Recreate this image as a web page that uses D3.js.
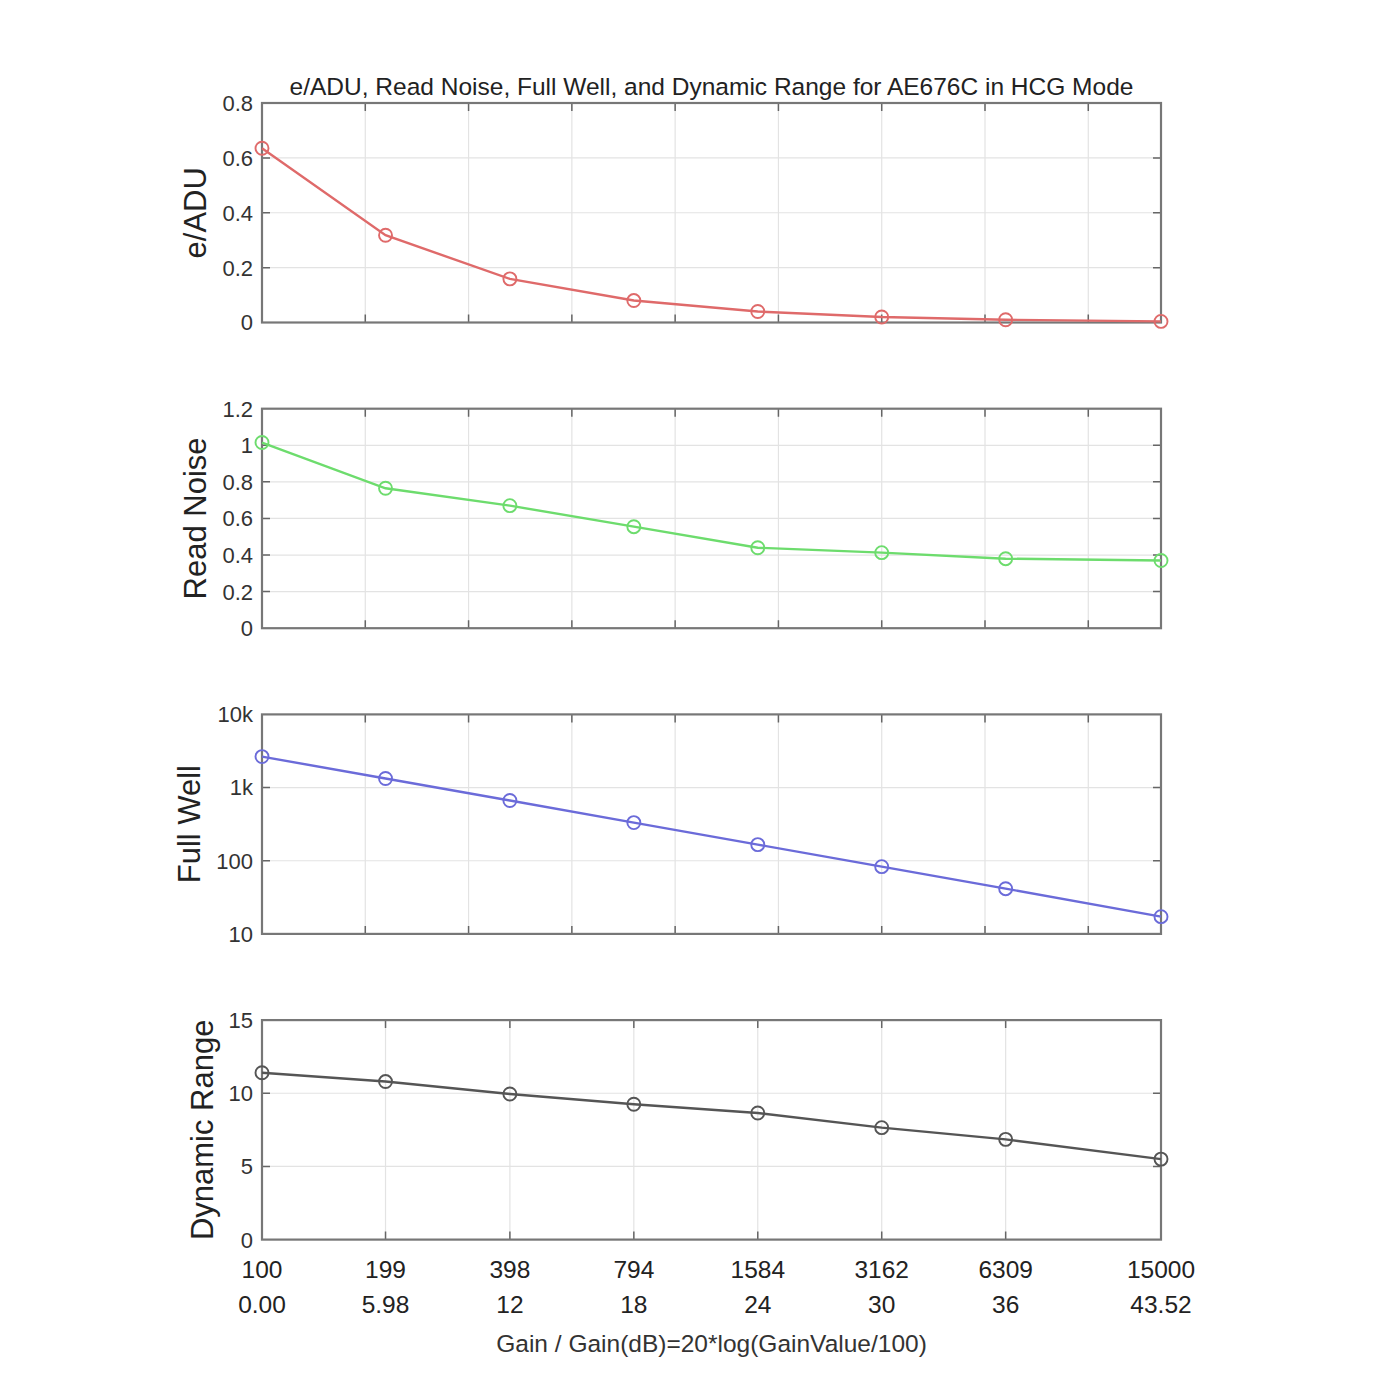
<!DOCTYPE html>
<html>
<head>
<meta charset="utf-8">
<script src="https://cdn.jsdelivr.net/npm/d3@7"></script>
<style>
  body { margin: 0; background: #fff; }
  text { font-family: "Liberation Sans", Arial, Helvetica, sans-serif; }
</style>
</head>
<body>
<svg id="chart" width="1400" height="1400"></svg>
<script>
// x positions: gain in dB, with gain value labels
const gainDb = [0, 5.98, 12, 18, 24, 30, 36, 43.52];
const gainLabels = ['100', '199', '398', '794', '1584', '3162', '6309', '15000'];
const dbLabels = ['0.00', '5.98', '12', '18', '24', '30', '36', '43.52'];

// series
const eADU = [0.635, 0.318, 0.159, 0.080, 0.040, 0.020, 0.010, 0.004];
const readNoise = [1.015, 0.765, 0.67, 0.555, 0.44, 0.413, 0.38, 0.37];
const fullWell = [2650, 1330, 665, 332, 166, 83, 41.5, 17.2];
const dynRange = [11.4, 10.8, 9.95, 9.25, 8.65, 7.65, 6.85, 5.5];

const svg = d3.select('#chart');
const left = 262, right = 1161;
const panelH = 219.5, panelStep = 305.7, firstTop = 103;
const x = d3.scaleLinear().domain([0, 43.52]).range([left, right]);

const panels = [
  { label: 'e/ADU', data: eADU, color: '#df6a6a', type: 'lin', domain: [0, 0.8],
    ticks: [0, 0.2, 0.4, 0.6, 0.8], fmt: d => d === 0 ? '0' : d.toString() },
  { label: 'Read Noise', data: readNoise, color: '#6ddc6d', type: 'lin', domain: [0, 1.2],
    ticks: [0, 0.2, 0.4, 0.6, 0.8, 1, 1.2], fmt: d => d.toString() },
  { label: 'Full Well', data: fullWell, color: '#6b6bd9', type: 'log', domain: [10, 10000],
    ticks: [10, 100, 1000, 10000], fmt: d => d >= 1000 ? (d / 1000) + 'k' : d.toString() },
  { label: 'Dynamic Range', data: dynRange, color: '#555555', type: 'lin', domain: [0, 15],
    ticks: [0, 5, 10, 15], fmt: d => d.toString() }
];

const gridX = d3.range(0, 45, 5);

panels.forEach((p, i) => {
  const top = firstTop + i * panelStep;
  const bottom = top + panelH;
  const y = (p.type === 'log' ? d3.scaleLog() : d3.scaleLinear())
    .domain(p.domain).range([bottom, top]);
  const g = svg.append('g');
  const xt = i === 3 ? gainDb : gridX;

  // grid
  g.selectAll('.gx').data(xt.filter(d => d > 0 && d < 43.52)).enter().append('line')
    .attr('x1', d => x(d)).attr('x2', d => x(d)).attr('y1', top).attr('y2', bottom)
    .attr('stroke', '#e3e3e3').attr('stroke-width', 1.2);
  g.selectAll('.gy').data(p.ticks.slice(1, -1)).enter().append('line')
    .attr('x1', left).attr('x2', right).attr('y1', d => y(d)).attr('y2', d => y(d))
    .attr('stroke', '#e3e3e3').attr('stroke-width', 1.2);

  // inward tick marks on all four sides
  const tk = 8;
  const tickCol = '#666';
  g.selectAll('.tb').data(xt.filter(d => d > 0 && d < 43.52)).enter().append('path')
    .attr('d', d => `M${x(d)},${bottom}v${-tk}M${x(d)},${top}v${tk}`)
    .attr('stroke', tickCol).attr('stroke-width', 1.5);
  g.selectAll('.tl').data(p.ticks.slice(1, -1)).enter().append('path')
    .attr('d', d => `M${left},${y(d)}h${tk}M${right},${y(d)}h${-tk}`)
    .attr('stroke', tickCol).attr('stroke-width', 1.5);

  // box
  g.append('rect').attr('x', left).attr('y', top)
    .attr('width', right - left).attr('height', bottom - top)
    .attr('fill', 'none').attr('stroke', '#777').attr('stroke-width', 2.2);

  // y tick labels
  const yl = g.append('g');
  yl.selectAll('text').data(p.ticks).enter().append('text')
    .attr('x', left - 9).attr('y', d => y(d)).attr('dy', '0.36em')
    .attr('text-anchor', 'end').attr('font-size', 22).attr('fill', '#333')
    .text(p.fmt);
  const tickLeft = yl.node().getBBox().x;

  // y axis label
  const lab = g.append('text')
    .attr('transform', `translate(0,0) rotate(-90)`)
    .attr('text-anchor', 'middle').attr('font-size', 31).attr('fill', '#222')
    .text(p.label);
  const lb = lab.node().getBBox();
  // outer (descender) edge of the rotated label sits a few px from the tick labels
  const overhang = lb.y + lb.height;
  lab.attr('transform', `translate(${tickLeft - 9 - overhang},${(top + bottom) / 2}) rotate(-90)`);

  // line and markers
  const pts = gainDb.map((d, k) => [d, p.data[k]]);
  g.append('path').datum(pts)
    .attr('d', d3.line().x(d => x(d[0])).y(d => y(d[1])))
    .attr('fill', 'none').attr('stroke', p.color).attr('stroke-width', 2.4);
  g.selectAll('circle').data(pts).enter().append('circle')
    .attr('cx', d => x(d[0])).attr('cy', d => y(d[1])).attr('r', 6.5)
    .attr('fill', 'none').attr('stroke', p.color).attr('stroke-width', 1.9);

  if (i === 3) {
    g.selectAll('.xg').data(gainDb).enter().append('text')
      .attr('x', d => x(d)).attr('y', bottom + 38)
      .attr('text-anchor', 'middle').attr('font-size', 24.5).attr('fill', '#222')
      .text((d, k) => gainLabels[k]);
    g.selectAll('.xd').data(gainDb).enter().append('text')
      .attr('x', d => x(d)).attr('y', bottom + 73)
      .attr('text-anchor', 'middle').attr('font-size', 24.5).attr('fill', '#222')
      .text((d, k) => dbLabels[k]);
    g.append('text').attr('x', (left + right) / 2).attr('y', bottom + 112)
      .attr('text-anchor', 'middle').attr('font-size', 24.5).attr('fill', '#333')
      .text('Gain / Gain(dB)=20*log(GainValue/100)');
  }
});

// title
svg.append('text').attr('x', (left + right) / 2).attr('y', 95)
  .attr('text-anchor', 'middle').attr('font-size', 24.5).attr('fill', '#222')
  .text('e/ADU, Read Noise, Full Well, and Dynamic Range for AE676C in HCG Mode');
</script>
</body>
</html>
